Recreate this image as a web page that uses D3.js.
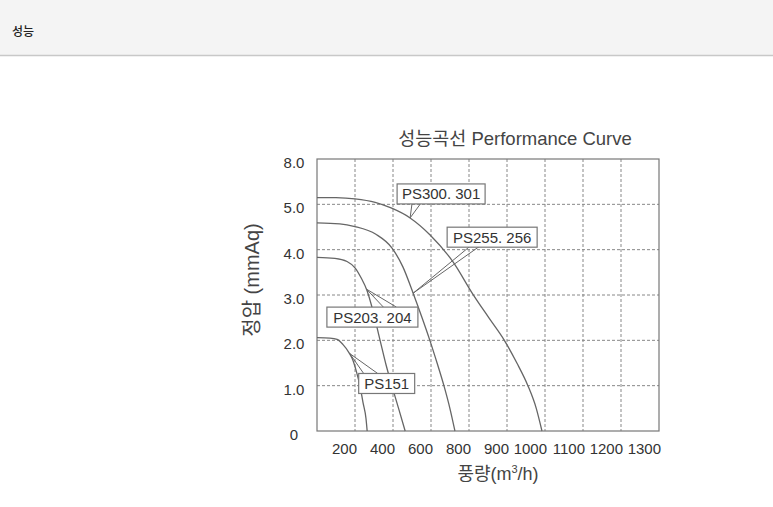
<!DOCTYPE html>
<html>
<head>
<meta charset="utf-8">
<script src="https://cdn.jsdelivr.net/npm/d3@7"></script>
<style>
  body { margin: 0; background: #fff; }
  svg text { font-family: "Liberation Sans", Arial, "Noto Sans CJK KR", sans-serif; }
</style>
</head>
<body>
<div id="chart"></div>
<script>
// y ticks (mmAq) - the chart spaces them evenly even though they jump 5 -> 8
let yTicks = [0, 1, 2, 3, 4, 5, 8];
let yTickLabels = ["0", "1.0", "2.0", "3.0", "4.0", "5.0", "8.0"];
// x tick labels (m3/h), one per grid column
let xTickLabels = ["200", "400", "600", "800", "900", "1000", "1100", "1200", "1300"];
let nCols = 9;

// curves: [grid column, pressure mmAq]
let ps300 = [[0, 5.45], [0.5, 5.44], [1.0, 5.36], [1.53, 5.13], [1.95, 4.92], [2.45, 4.7], [2.97, 4.33],
  [3.58, 3.73], [4.1, 3.02], [4.52, 2.5], [4.93, 2.0], [5.26, 1.5], [5.55, 1.0], [5.77, 0.5], [5.92, 0]];
let ps255 = [[0, 4.59], [0.6, 4.57], [1.0, 4.51], [1.55, 4.34], [1.97, 4.04], [2.26, 3.62], [2.53, 3.04],
  [2.76, 2.51], [2.97, 2.0], [3.16, 1.5], [3.34, 1.0], [3.5, 0.49], [3.63, 0]];
let ps203 = [[0, 3.83], [0.47, 3.81], [0.79, 3.74], [1.0, 3.6], [1.16, 3.38], [1.32, 3.09], [1.47, 2.66],
  [1.66, 2.0], [1.82, 1.45], [1.97, 1.0], [2.16, 0.46], [2.32, 0]];
let ps151 = [[0, 2.06], [0.34, 2.05], [0.53, 2.02], [0.68, 1.91], [0.84, 1.73], [0.95, 1.55], [1.05, 1.27],
  [1.13, 1.0], [1.21, 0.63], [1.29, 0.27], [1.32, 0]];

let seriesNames = ["PS300. 301", "PS255. 256", "PS203. 204", "PS151"];
let series = [ps300, ps255, ps203, ps151];

// callout layout: tip point on the curve (data units), box centre and tail roots (px offsets from tip)
let callouts = [
  {tip: [2.45, 4.7], box: [31, -24], tail: [[2, -15], [11, -15]], w: 88},
  {tip: [2.53, 3.04], box: [79, -56], tail: [[57, -47], [68, -48]], w: 90},
  {tip: [1.3, 3.13], box: [6, 28], tail: [[17, 18], [30, 18]], w: 91},
  {tip: [0.86, 1.71], box: [37, 30], tail: [[14, 20], [28, 20]], w: 56}
];

let W = 773, H = 507;
let margin = {top: 159, left: 317},
    width = 342,
    height = 272;

let svg = d3.select("#chart").append("svg")
    .attr("width", W)
    .attr("height", H);

// page header strip
svg.append("rect").attr("width", W).attr("height", 55).attr("fill", "#f4f4f4");
svg.append("line").attr("x1", 0).attr("x2", W).attr("y1", 55.5).attr("y2", 55.5)
    .attr("stroke", "#c8c8c8").attr("stroke-width", 1.5);
svg.append("text").attr("x", 12).attr("y", 36).attr("font-size", 12).attr("fill", "#222")
    .attr("font-weight", 500)
    .text("성능");

let g = svg.append("g").attr("transform", "translate(" + margin.left + "," + margin.top + ")");

let x = d3.scaleLinear().domain([0, nCols]).range([0, width]);
let y = d3.scaleLinear()
    .domain(yTicks)
    .range(yTicks.map((d, i) => height - i * height / (yTicks.length - 1)));

// grid
g.append("g").selectAll("line")
    .data(d3.range(1, nCols))
    .enter().append("line")
    .attr("x1", d => x(d)).attr("x2", d => x(d))
    .attr("y1", 0).attr("y2", height)
    .attr("stroke", "#888").attr("stroke-dasharray", "3,2");
g.append("g").selectAll("line")
    .data(yTicks.slice(1, -1))
    .enter().append("line")
    .attr("x1", 0).attr("x2", width)
    .attr("y1", d => y(d)).attr("y2", d => y(d))
    .attr("stroke", "#888").attr("stroke-dasharray", "3,2");

g.append("rect").attr("width", width).attr("height", height)
    .attr("fill", "none").attr("stroke", "#777").attr("stroke-width", 1.2);

// tick labels
g.append("g").selectAll("text")
    .data(yTicks)
    .enter().append("text")
    .attr("x", -23)
    .attr("y", d => y(d) + 9)
    .attr("text-anchor", "middle")
    .attr("font-size", 15)
    .attr("fill", "#333")
    .text((d, i) => yTickLabels[i]);

g.append("g").selectAll("text")
    .data(xTickLabels)
    .enter().append("text")
    .attr("x", (d, i) => x(i + 1) + 2)
    .attr("y", height + 23)
    .attr("text-anchor", "end")
    .attr("font-size", 15)
    .attr("fill", "#333")
    .text(d => d);

// curves
let line = d3.line()
    .x(d => x(d[0]))
    .y(d => y(d[1]))
    .curve(d3.curveMonotoneX);

g.append("g").selectAll("path")
    .data(series)
    .enter().append("path")
    .attr("d", line)
    .attr("fill", "none")
    .attr("stroke", "#666")
    .attr("stroke-width", 1.3);

// callouts
let co = g.append("g").selectAll("g")
    .data(callouts)
    .enter().append("g")
    .attr("transform", d => "translate(" + x(d.tip[0]) + "," + y(d.tip[1]) + ")");

co.append("path")
    .attr("d", d => "M" + d.tail[0] + "L0,0L" + d.tail[1])
    .attr("fill", "none")
    .attr("stroke", "#666")
    .attr("stroke-width", 1);

co.append("rect")
    .attr("x", d => d.box[0] - d.w / 2)
    .attr("y", d => d.box[1] - 10)
    .attr("width", d => d.w)
    .attr("height", 20)
    .attr("fill", "#fff")
    .attr("stroke", "#777")
    .attr("stroke-width", 1.2);

co.append("text")
    .attr("x", d => d.box[0])
    .attr("y", d => d.box[1] + 5.5)
    .attr("text-anchor", "middle")
    .attr("font-size", 15)
    .attr("fill", "#333")
    .text((d, i) => seriesNames[i]);

// titles
svg.append("text")
    .attr("x", 515).attr("y", 145)
    .attr("text-anchor", "middle")
    .attr("font-size", 18.5)
    .attr("fill", "#444")
    .text("성능곡선 Performance Curve");

svg.append("text")
    .attr("transform", "translate(259,280) rotate(-90)")
    .attr("text-anchor", "middle")
    .attr("font-size", 20)
    .attr("fill", "#444")
    .text("정압 (mmAq)");

let xt = svg.append("text")
    .attr("x", 498).attr("y", 480)
    .attr("text-anchor", "middle")
    .attr("font-size", 18)
    .attr("fill", "#444");
xt.append("tspan").text("풍량(m");
xt.append("tspan").attr("font-size", 11).attr("dy", -7).text("3");
xt.append("tspan").attr("dy", 7).text("/h)");
</script>
</body>
</html>
